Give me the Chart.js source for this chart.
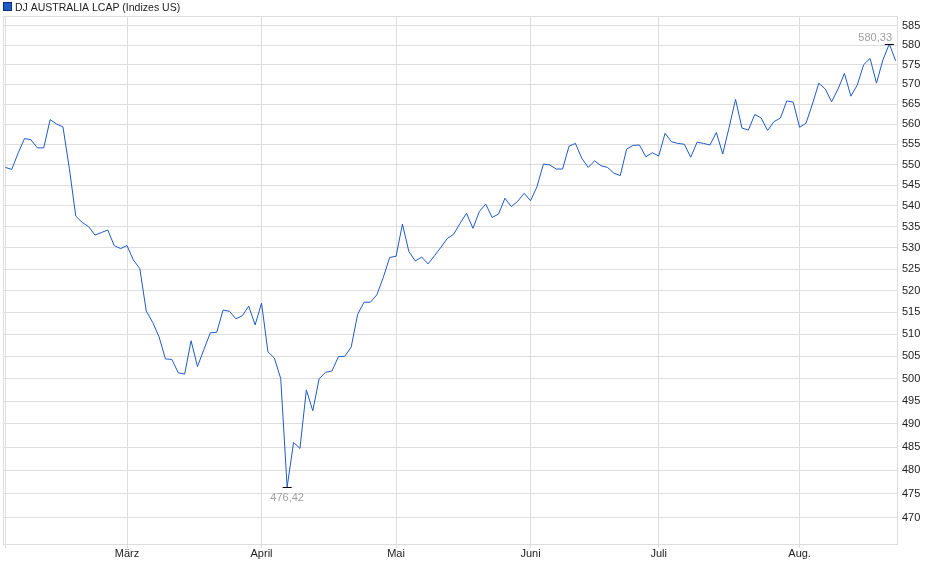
<!DOCTYPE html>
<html>
<head>
<meta charset="utf-8">
<script src="https://cdn.jsdelivr.net/npm/chart.js@4.4.1/dist/chart.umd.min.js"></script>
<style>
html,body{margin:0;padding:0;background:#fff;}
#wrap{position:relative;width:940px;height:579px;}
</style>
</head>
<body>
<div id="wrap"><canvas id="c"></canvas></div>
<script>
const seriesName = 'DJ AUSTRALIA LCAP (Indizes US)';
// daily closes, Feb 3 .. Aug 21 (trading days)
const values = [
  549.3, 548.8, 552.8, 556.4, 556.1, 554.1, 554.1, 561.1, 560.0, 559.3,
  549.0, 537.5, 536.0, 535.0, 533.0, 533.6, 534.2, 530.5, 529.8, 530.5,
  527.1, 525.1, 515.3, 512.7, 509.4, 504.4, 504.3, 501.3, 501.0, 508.5,
  502.7, 506.5, 510.3, 510.4, 515.5, 515.2, 513.5, 514.2, 516.4, 512.1,
  517.1, 506.0, 504.6, 500.0, 476.42, 486.0, 484.7, 497.5, 492.9, 500.0,
  501.4, 501.7, 504.9, 505.0, 507.1, 514.5, 517.3, 517.3, 519.0, 523.0,
  527.7, 528.0, 535.6, 529.1, 526.9, 527.8, 526.2, 528.1, 530.1, 532.2,
  533.2, 535.8, 538.2, 534.6, 538.6, 540.4, 537.2, 538.0, 541.8, 539.8,
  541.1, 543.0, 541.2, 544.6, 550.1, 549.9, 548.9, 548.9, 554.5, 555.2,
  551.5, 549.3, 550.9, 549.7, 549.3, 547.9, 547.3, 553.8, 554.7, 554.8,
  551.9, 552.9, 552.1, 557.7, 555.6, 555.2, 555.0, 551.8, 555.5, 555.2,
  554.8, 557.9, 552.6, 559.2, 566.2, 559.0, 558.5, 562.4, 561.5, 558.4,
  560.6, 561.5, 565.8, 565.5, 559.2, 560.2, 565.0, 570.3, 568.8, 565.6,
  568.8, 572.8, 567.0, 569.8, 575.0, 576.6, 570.3, 576.2, 580.33, 576.0
];
const monthLabels = ['', 'März', 'April', 'Mai', 'Juni', 'Juli', 'Aug.'];
const monthStartIdx = [0, 19, 40, 61, 82, 102, 124];
const yTicks = [470, 475, 480, 485, 490, 495, 500, 505, 510, 515, 520, 525, 530,
                535, 540, 545, 550, 555, 560, 565, 570, 575, 580, 585];
const yMin = 464.3, yMax = 587.6;
const xMin = -0.36, xMax = 139.36;

const FONT = '"Liberation Sans", Arial, sans-serif';
const GRID = '#dddddd';
const LINE = '#1f5bc4';

const points = values.map((v, i) => ({x: i, y: v}));

const fmt = v => v.toFixed(2).replace('.', ',');

const decor = {
  id: 'decor',
  afterDatasetsDraw(chart) {
    const {ctx, chartArea: a, scales} = chart;
    ctx.save();
    // frame
    ctx.strokeStyle = GRID;
    ctx.lineWidth = 1;
    ctx.strokeRect(a.left + 0.5, a.top + 0.5, a.right - a.left - 1, a.bottom - a.top - 1);
    // min / max markers
    let maxI = 0, minI = 0;
    values.forEach((v, i) => { if (v > values[maxI]) maxI = i; if (v < values[minI]) minI = i; });
    ctx.font = '11px ' + FONT;
    ctx.textBaseline = 'alphabetic';
    const mark = (i, above) => {
      const px = scales.x.getPixelForValue(i);
      const py = Math.round(scales.y.getPixelForValue(values[i])) + 0.5;
      ctx.strokeStyle = '#000';
      ctx.beginPath();
      ctx.moveTo(px - 4.5, py);
      ctx.lineTo(px + 4.5, py);
      ctx.stroke();
      const t = fmt(values[i]);
      const w = ctx.measureText(t).width;
      let tx = px - w / 2;
      if (tx + w > a.right - 6) tx = a.right - 6 - w;
      if (tx < a.left) tx = a.left;
      ctx.fillStyle = '#a0a0a0';
      ctx.textAlign = 'left';
      ctx.fillText(t, tx, above ? py - 4 : py + 13);
    };
    mark(maxI, true);
    mark(minI, false);
    ctx.restore();
  },
  afterDraw(chart) {
    const {ctx} = chart;
    ctx.save();
    ctx.fillStyle = LINE;
    ctx.fillRect(4, 3, 7, 7);
    ctx.strokeStyle = '#0b2f7a';
    ctx.lineWidth = 1;
    ctx.strokeRect(3.5, 2.5, 8, 8);
    ctx.fillStyle = '#222';
    ctx.font = '10.5px ' + FONT;
    ctx.textBaseline = 'alphabetic';
    ctx.textAlign = 'left';
    ctx.fillText(seriesName, 15, 10.5);
    ctx.restore();
  }
};

new Chart(document.getElementById('c'), {
  type: 'line',
  data: {
    datasets: [{
      label: seriesName,
      data: points,
      borderColor: LINE,
      borderWidth: 1,
      pointRadius: 0,
      tension: 0,
      fill: false
    }]
  },
  options: {
    responsive: true,
    maintainAspectRatio: false,
    animation: false,
    devicePixelRatio: 1,
    layout: {padding: {left: 3, top: 16, right: 0, bottom: 0}},
    plugins: {legend: {display: false}, tooltip: {enabled: false}},
    scales: {
      x: {
        type: 'linear',
        min: xMin,
        max: xMax,
        afterBuildTicks: s => { s.ticks = monthStartIdx.map(v => ({value: v})); },
        afterFit: s => { s.height = 34; },
        grid: {color: GRID, tickLength: 3, drawTicks: true},
        border: {display: false},
        ticks: {
          autoSkip: false,
          maxRotation: 0,
          padding: -1,
          color: '#222',
          font: {family: FONT, size: 11},
          callback: v => monthLabels[monthStartIdx.indexOf(v)] || ''
        }
      },
      y: {
        type: 'logarithmic',
        position: 'right',
        min: yMin,
        max: yMax,
        afterBuildTicks: s => { s.ticks = yTicks.map(v => ({value: v})); },
        afterFit: s => { s.width = 42; },
        grid: {color: GRID, drawTicks: false},
        border: {display: false},
        ticks: {
          autoSkip: false,
          padding: 4,
          color: '#222',
          font: {family: FONT, size: 11},
          callback: v => String(v)
        }
      }
    }
  },
  plugins: [decor]
});
</script>
</body>
</html>
